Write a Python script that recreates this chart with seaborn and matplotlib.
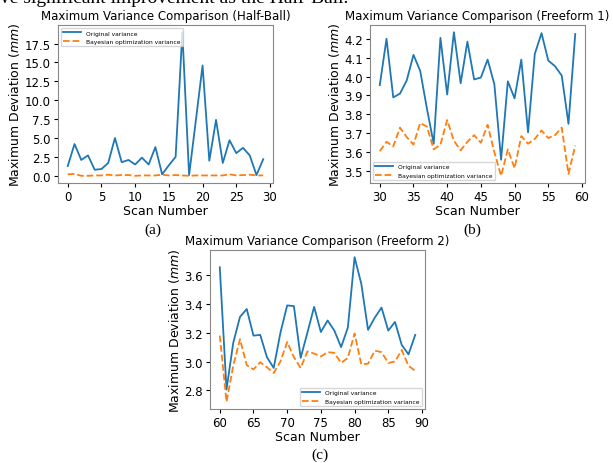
import numpy as np
import pandas as pd
import matplotlib
matplotlib.use("Agg")
import matplotlib.pyplot as plt
from matplotlib.ticker import MultipleLocator
import seaborn as sns

# Scan numbers for each part
scan_halfball = list(range(0, 30))
scan_free1 = list(range(30, 60))
scan_free2 = list(range(60, 90))

# Half-Ball max deviations (mm)
orig_halfball = [1.3, 4.2, 2.1, 2.7, 0.8, 0.9, 1.7, 5.0, 1.8, 2.1,
                 1.5, 2.4, 1.5, 3.8, 0.2, 1.4, 2.5, 19.0, 0.1, 7.3,
                 14.6, 2.0, 7.4, 1.7, 4.7, 3.0, 3.7, 2.7, 0.1, 2.2]
bayes_halfball = [0.2, 0.25, 0.0, 0.0, 0.05, 0.05, 0.15, 0.05, 0.1, 0.1,
                  0.0, 0.05, 0.05, 0.05, 0.15, 0.05, 0.1, 0.05, 0.0, 0.05,
                  0.05, 0.05, 0.05, 0.05, 0.2, 0.05, 0.1, 0.15, 0.05, 0.05]

# Freeform 1
orig_free1 = [3.955, 4.2, 3.89, 3.91, 3.98, 4.115, 4.03, 3.83, 3.645, 4.205,
              3.905, 4.235, 3.965, 4.185, 3.985, 3.995, 4.09, 3.96, 3.56, 3.975,
              3.885, 4.09, 3.705, 4.12, 4.23, 4.085, 4.055, 4.005, 3.75, 4.225]
bayes_free1 = [3.605, 3.655, 3.63, 3.73, 3.68, 3.64, 3.755, 3.735, 3.615, 3.64,
               3.77, 3.66, 3.61, 3.655, 3.69, 3.65, 3.745, 3.6, 3.475, 3.615,
               3.515, 3.685, 3.645, 3.67, 3.715, 3.675, 3.69, 3.73, 3.485, 3.635]

# Freeform 2
orig_free2 = [3.655, 2.805, 3.13, 3.31, 3.365, 3.18, 3.185, 3.03, 2.955, 3.2,
              3.39, 3.385, 3.025, 3.2, 3.38, 3.205, 3.285, 3.215, 3.1, 3.235,
              3.725, 3.54, 3.22, 3.305, 3.375, 3.215, 3.275, 3.115, 3.05, 3.185]
bayes_free2 = [3.18, 2.72, 2.97, 3.155, 2.975, 2.945, 2.995, 2.96, 2.92, 3.0,
               3.135, 3.03, 2.955, 3.07, 3.055, 3.035, 3.065, 3.06, 2.99, 3.025,
               3.195, 2.98, 2.985, 3.075, 3.065, 2.99, 3.0, 3.08, 2.97, 2.935]

# name, x, series, legend loc, axes box (px: l, t, r, b), y tick step, caption, caption pos
panels = [
    ("Half-Ball", scan_halfball, orig_halfball, bayes_halfball, "upper left",
     [58, 26, 273, 184], 2.5, "(a)", 153, 230),
    ("Freeform 1", scan_free1, orig_free1, bayes_free1, "lower left",
     [370, 26, 585, 184], 0.1, "(b)", 472, 230),
    ("Freeform 2", scan_free2, orig_free2, bayes_free2, "lower right",
     [210, 251, 425, 410], 0.2, "(c)", 320, 455),
]

W, H = 613, 464
fig = plt.figure(figsize=(W / 100, H / 100), dpi=100)

# cut-off line of paper text at the very top
fig.text(0.0, 1 - 3 / H, "ve significant improvement as the Half-Ball.",
         family="Liberation Serif", fontsize=14, va="baseline", ha="left")

for name, x, orig, bayes, loc, box, ystep, cap, cx, cy in panels:
    l, t, r, b = box
    ax = fig.add_axes([l / W, 1 - b / H, (r - l) / W, (b - t) / H])
    df = pd.DataFrame({"scan": x, "orig": orig, "bayes": bayes})
    sns.lineplot(data=df, x="scan", y="orig", ax=ax, color="#1f77b4",
                 label="Original variance", linewidth=1.3)
    sns.lineplot(data=df, x="scan", y="bayes", ax=ax, color="#ff7f0e",
                 linestyle="--", label="Bayesian optimization variance", linewidth=1.3)
    ax.yaxis.set_major_locator(MultipleLocator(ystep))
    ax.xaxis.set_major_locator(MultipleLocator(5))
    ax.set_title(f"Maximum Variance Comparison ({name})", fontsize=8.5, pad=4)
    ax.set_xlabel("Scan Number", fontsize=9, labelpad=1)
    ax.set_ylabel("Maximum Deviation ($mm$)", fontsize=9, labelpad=2)
    ax.tick_params(labelsize=8.5, length=3, pad=2)
    for s in ax.spines.values():
        s.set_color("#888888")
    ax.legend(loc=loc, fontsize=4.3, frameon=True, handlelength=3)
    fig.text(cx / W, 1 - cy / H, cap, family="Liberation Serif", fontsize=11,
             ha="center", va="center")

fig.savefig("out.png", dpi=100)
